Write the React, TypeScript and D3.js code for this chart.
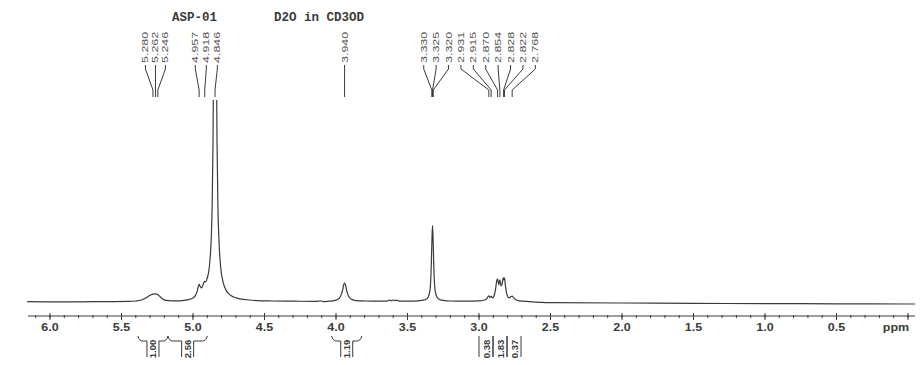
import React from "react";
import * as d3 from "d3";

// ---- data ----
const titleLeft = "ASP-01";
const titleRight = "D2O in CD3OD";

// spectrum trace: [ppm, intensity] (100 = plot top; the HDO peak is clipped)
const spectrum: [number, number][] = [
  [6.16, 0.2], [6.0, 0.1], [5.8, 0.1], [5.6, 0.2], [5.45, 0.3], [5.4, 0.5], [5.36, 1.0], [5.33, 2.0],
  [5.3, 3.3], [5.28, 3.9], [5.262, 4.0], [5.246, 3.7], [5.23, 2.6], [5.21, 1.4], [5.19, 0.8], [5.15, 0.6],
  [5.1, 0.6], [5.05, 0.9], [5.02, 1.4], [5.0, 2.0], [4.985, 3.0], [4.972, 5.0], [4.962, 8.0], [4.957, 8.7],
  [4.95, 7.8], [4.94, 7.0], [4.93, 8.5], [4.918, 10.2], [4.91, 10.0], [4.9, 12.0], [4.89, 15.0], [4.88, 22],
  [4.872, 32], [4.866, 48], [4.86, 80], [4.856, 120], [4.851, 210], [4.846, 300], [4.841, 210], [4.836, 120],
  [4.832, 80], [4.826, 48], [4.818, 30], [4.806, 17], [4.79, 10], [4.77, 6], [4.75, 4], [4.72, 2.6],
  [4.68, 1.7], [4.62, 1.1], [4.55, 0.7], [4.45, 0.5], [4.3, 0.4], [4.15, 0.3], [4.1, 0.5], [4.09, 0.2],
  [4.05, 0.4], [4.02, 0.6], [3.99, 1.2], [3.97, 2.6], [3.955, 5.5], [3.946, 8.6], [3.94, 9.4], [3.934, 8.6],
  [3.925, 5.5], [3.91, 2.6], [3.89, 1.3], [3.86, 0.7], [3.8, 0.5], [3.7, 0.4], [3.65, 0.4], [3.625, 0.9],
  [3.615, 0.6], [3.6, 1.0], [3.59, 0.7], [3.575, 0.9], [3.555, 0.4], [3.5, 0.4], [3.42, 0.6], [3.39, 0.9],
  [3.37, 1.4], [3.355, 2.5], [3.345, 5], [3.338, 10], [3.333, 20], [3.329, 31], [3.325, 38], [3.321, 31],
  [3.317, 20], [3.312, 10], [3.305, 5], [3.295, 2.6], [3.28, 1.4], [3.25, 0.8], [3.2, 0.5], [3.1, 0.4],
  [3.0, 0.6], [2.96, 1.0], [2.945, 1.7], [2.936, 2.8], [2.931, 3.1], [2.924, 2.3], [2.915, 2.8], [2.906, 2.0],
  [2.895, 3.0], [2.885, 6], [2.876, 10.5], [2.87, 11.5], [2.862, 8.5], [2.854, 11], [2.846, 8], [2.838, 9],
  [2.832, 11.5], [2.828, 12], [2.825, 11], [2.822, 12], [2.815, 8], [2.805, 3.8], [2.79, 2.0], [2.778, 2.6],
  [2.768, 2.9], [2.758, 2.2], [2.745, 1.2], [2.72, 0.6], [2.65, 0.2], [2.5, -0.3], [2.0, -0.5], [1.5, -0.7],
  [1.0, -0.8], [0.5, -0.9], [0.0, -1.0], [-0.05, -1.0],
];

// peak pick labels, grouped as drawn
const peakGroups: number[][] = [
  [5.28, 5.262, 5.246],
  [4.957, 4.918, 4.846],
  [3.94],
  [3.33, 3.325, 3.32, 2.931, 2.915, 2.87, 2.854, 2.828, 2.822, 2.768],
];
const groupSpacing = [10, 11, 0, 12.4];

// integrals
const integralFrom = [5.385, 5.175, 4.03, 3.0, 2.902, 2.804];
const integralTo = [5.175, 4.9, 3.82, 2.902, 2.804, 2.706];
const integralValues = [1.0, 2.56, 1.19, 0.38, 1.83, 0.37];

const majorTicks = [6.0, 5.5, 5.0, 4.5, 4.0, 3.5, 3.0, 2.5, 2.0, 1.5, 1.0, 0.5, 0.0];

// ---- layout ----
const W = 922;
const H = 365;
const axisY = 316;
const ink = "#3a3a3a";

export default function App() {
  const x = d3.scaleLinear().domain([6, 0]).range([50, 908]);
  const y = d3.scaleLinear().domain([0, 100]).range([302, 100]);
  const line = d3
    .line<[number, number]>()
    .x((d) => x(d[0]))
    .y((d) => y(d[1]))
    .curve(d3.curveMonotoneX);

  const minorTicks = d3.range(0, 62).map((i) => i / 10);
  const fmt3 = d3.format(".3f");
  const fmt2 = d3.format(".2f");
  const fmt1 = d3.format(".1f");

  // label positions: each group spread evenly around the mean peak x
  const labels: { ppm: number; lx: number; px: number }[] = [];
  peakGroups.forEach((g, gi) => {
    const xs = g.map((p) => x(p));
    const mean = d3.mean(xs) as number;
    const sp = groupSpacing[gi];
    g.forEach((p, i) => {
      labels.push({ ppm: p, px: x(p), lx: mean + (i - (g.length - 1) / 2) * sp });
    });
  });

  const textBottom = 63;
  const yA = 65;
  const yB = 69;
  const yC = 90;
  const yD = 97;

  return (
    <svg
      width={W}
      height={H}
      style={{ position: "absolute", left: 0, top: 0, background: "#fff" }}
      xmlns="http://www.w3.org/2000/svg"
    >
      <defs>
        <clipPath id="plotClip">
          <rect x={0} y={100} width={W} height={220} />
        </clipPath>
      </defs>

      {/* title */}
      <text x={172} y={21} fontFamily="'Liberation Mono', monospace" fontWeight="bold" fontSize={12.5} fill={ink}>
        {titleLeft}
      </text>
      <text x={274} y={21} fontFamily="'Liberation Mono', monospace" fontWeight="bold" fontSize={12.5} fill={ink}>
        {titleRight}
      </text>

      {/* peak labels */}
      {labels.map((l, i) => (
        <g key={i}>
          <text
            transform={`translate(${l.lx + 3},${textBottom}) rotate(-90) scale(1,0.72)`}
            fontFamily="'Liberation Sans', Arial, sans-serif"
            fontSize={12.5}
            fill="#555"
          >
            {fmt3(l.ppm)}
          </text>
          <path
            d={`M${l.lx},${yA} V${yB} L${l.px},${yC} V${yD}`}
            fill="none"
            stroke={ink}
            strokeWidth={1}
          />
        </g>
      ))}

      {/* spectrum */}
      <path
        d={line(spectrum) || ""}
        fill="none"
        stroke={ink}
        strokeWidth={1.2}
        clipPath="url(#plotClip)"
      />

      {/* axis */}
      <line x1={28} x2={915} y1={axisY} y2={axisY} stroke={ink} strokeWidth={1} />
      {minorTicks.map((t) => (
        <line key={"m" + t} x1={x(t)} x2={x(t)} y1={axisY - 1} y2={axisY + 2} stroke={ink} strokeWidth={1} />
      ))}
      {majorTicks.map((t) => (
        <g key={"M" + t}>
          <line x1={x(t)} x2={x(t)} y1={axisY - 3} y2={axisY + 4} stroke={ink} strokeWidth={1} />
          {t > 0.01 ? (
            <text
              transform={`translate(${x(t)},${axisY + 15}) scale(1.25,1)`}
              textAnchor="middle"
              fontFamily="'Liberation Sans', Arial, sans-serif"
              fontWeight="bold"
              fontSize={10}
              fill={ink}
            >
              {fmt1(t)}
            </text>
          ) : null}
        </g>
      ))}
      <text
        transform={`translate(${896},${axisY + 15}) scale(1.25,1)`}
        textAnchor="middle"
        fontFamily="'Liberation Sans', Arial, sans-serif"
        fontWeight="bold"
        fontSize={10}
        fill={ink}
      >
        ppm
      </text>

      {/* integrals */}
      {integralValues.map((v, i) => {
        const x1 = x(integralFrom[i]);
        const x2 = x(integralTo[i]);
        const cx = (x1 + x2) / 2;
        const bw = 12;
        const bx1 = cx - bw / 2;
        const bx2 = cx + bw / 2;
        const wide = x2 - x1 > 20;
        return (
          <g key={"int" + i} stroke={ink} fill="none" strokeWidth={1}>
            {wide ? (
              <>
                <path
                  d={`M${x1},336 Q${x1 + 1},341 ${x1 + 5},341 H${bx1} M${bx2},341 H${x2 - 5} Q${x2 - 1},341 ${x2},336`}
                />
                <path d={`M${bx1},341 V357 M${bx2},341 V357`} />
              </>
            ) : (
              <path d={`M${x1},336 V357 M${x2},336 V357`} />
            )}
            <text
              transform={`translate(${cx + 3.5},349) rotate(-90)`}
              textAnchor="middle"
              fontFamily="'Liberation Sans', Arial, sans-serif"
              fontWeight="bold"
              fontSize={9.5}
              fill={ink}
              stroke="none"
            >
              {fmt2(v)}
            </text>
          </g>
        );
      })}
    </svg>
  );
}
